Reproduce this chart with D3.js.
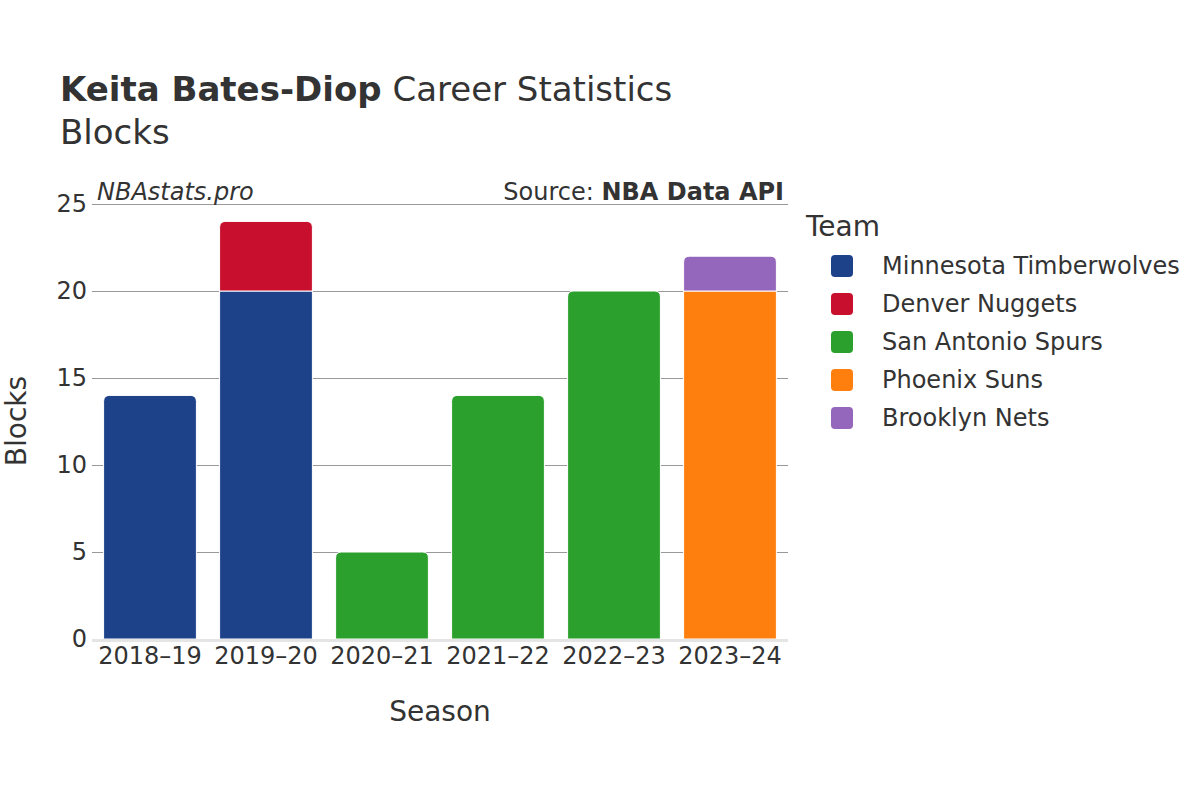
<!DOCTYPE html>
<html><head><meta charset="utf-8">
<script src="https://cdn.jsdelivr.net/npm/d3@7"></script>
<style>body{margin:0;background:#fff;} text{font-family:"DejaVu Sans",sans-serif;}</style>
</head><body>
<svg id="c" width="1200" height="800"></svg>
<script>
const seasons = ["2018–19","2019–20","2020–21","2021–22","2022–23","2023–24"];
const teams = ["Minnesota Timberwolves","Denver Nuggets","San Antonio Spurs","Phoenix Suns","Brooklyn Nets"];
const teamColors = ["#1d428a","#c8102e","#2ca02c","#ff7f0e","#9467bd"];
// blocks per season per team (in the order of teams)
const minnesota = [14,20,0,0,0,0];
const denver    = [0,4,0,0,0,0];
const spurs     = [0,0,5,14,20,0];
const suns      = [0,0,0,0,0,20];
const nets      = [0,0,0,0,0,2];
const yTicks = [0,5,10,15,20,25];

const series = [minnesota,denver,spurs,suns,nets];
const svg = d3.select("#c");
const L=92,R=788,T=204,B=639;
const x = d3.scaleBand().domain(seasons).range([L,R]).paddingInner(0.2).paddingOuter(0.1);
const y = d3.scaleLinear().domain([0,25]).range([B,T]);
const col = "#333";

// grid
svg.append("g").selectAll("line").data(yTicks.filter(d=>d>0)).join("line")
  .attr("x1",L).attr("x2",R).attr("y1",d=>y(d)+0.5).attr("y2",d=>y(d)+0.5)
  .attr("stroke","#999").attr("stroke-width",1);

// bars
const r=6;
seasons.forEach((s,i)=>{
  let base=0;
  const segs=[];
  series.forEach((arr,k)=>{ if(arr[i]>0){ segs.push({k,y0:base,y1:base+arr[i]}); base+=arr[i]; } });
  segs.forEach((sg,j)=>{
    const x0=x(s), w=x.bandwidth(), yt=y(sg.y1), yb=y(sg.y0);
    const top = j===segs.length-1;
    let p;
    if(top){
      p=`M${x0},${yb}L${x0},${yt+r}Q${x0},${yt} ${x0+r},${yt}L${x0+w-r},${yt}Q${x0+w},${yt} ${x0+w},${yt+r}L${x0+w},${yb}Z`;
    } else {
      p=`M${x0},${yb}L${x0},${yt}L${x0+w},${yt}L${x0+w},${yb}Z`;
    }
    svg.append("path").attr("d",p).attr("fill",teamColors[sg.k]).attr("stroke","#fff").attr("stroke-width",1);
  });
});

// zero line
svg.append("line").attr("x1",L).attr("x2",R).attr("y1",y(0)+1.5).attr("y2",y(0)+1.5)
  .attr("stroke","#e5e5e5").attr("stroke-width",3);

// y axis
const ya = svg.append("g").attr("transform",`translate(${L},0)`)
  .call(d3.axisLeft(y).tickValues(yTicks).tickSize(0).tickPadding(4));
ya.select(".domain").remove();
ya.selectAll("text").attr("font-size",24).attr("fill",col).attr("font-family","DejaVu Sans").attr("dx","-1");

// x axis
const xa = svg.append("g").attr("transform",`translate(0,${B})`)
  .call(d3.axisBottom(x).tickSize(0).tickPadding(8));
xa.select(".domain").remove();
xa.selectAll("text").attr("font-size",24).attr("fill",col).attr("font-family","DejaVu Sans").attr("dy","0.72em");

// titles
const title = svg.append("text").attr("x",60).attr("y",101).attr("font-size",34).attr("fill",col);
title.append("tspan").attr("font-weight","bold").text("Keita Bates-Diop");
title.append("tspan").text(" Career Statistics");
svg.append("text").attr("x",60).attr("y",144).attr("font-size",34).attr("fill",col).text("Blocks");

svg.append("text").attr("x",97).attr("y",200).attr("font-size",24).attr("font-style","italic").attr("fill",col).text("NBAstats.pro");
const src = svg.append("text").attr("x",784).attr("y",200).attr("font-size",24).attr("text-anchor","end").attr("fill",col);
src.append("tspan").text("Source: ");
src.append("tspan").attr("font-weight","bold").text("NBA Data API");

svg.append("text").attr("x",440).attr("y",721).attr("font-size",28).attr("text-anchor","middle").attr("fill",col).text("Season");
svg.append("text").attr("transform","translate(26,421) rotate(-90)").attr("font-size",28).attr("text-anchor","middle").attr("fill",col).text("Blocks");

// legend
svg.append("text").attr("x",806).attr("y",236).attr("font-size",28).attr("fill",col).text("Team");
const lg = svg.append("g").selectAll("g").data(teams).join("g")
  .attr("transform",(d,i)=>`translate(0,${266+i*38})`);
lg.append("rect").attr("x",831).attr("y",-11).attr("width",22).attr("height",22).attr("rx",4)
  .attr("fill",(d,i)=>teamColors[i]);
lg.append("text").attr("x",882).attr("y",0).attr("dy","0.35em").attr("font-size",24).attr("fill",col).text(d=>d);
</script>
</body></html>
